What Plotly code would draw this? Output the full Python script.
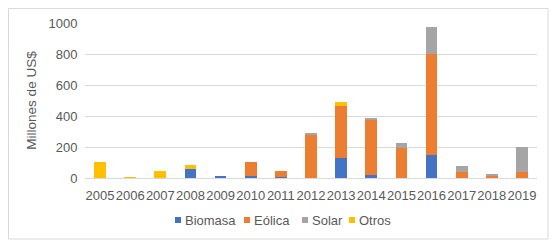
import plotly.graph_objects as go

years = ["2005", "2006", "2007", "2008", "2009", "2010", "2011", "2012",
         "2013", "2014", "2015", "2016", "2017", "2018", "2019"]
biomasa = [0, 0, 0, 56, 11, 13, 8, 0, 130, 20, 0, 149, 0, 0, 0]
eolica = [0, 0, 0, 0, 0, 93, 40, 283, 336, 360, 194, 654, 39, 13, 37]
solar = [0, 0, 0, 0, 0, 0, 0, 2, 0, 9, 31, 173, 37, 11, 164]
otros = [104, 6, 45, 28, 0, 0, 0, 0, 22, 0, 0, 0, 0, 0, 0]

series_names = ["Biomasa", "Eólica", "Solar", "Otros"]
series_values = [biomasa, eolica, solar, otros]
series_colors = ["#4472C4", "#ED7D31", "#A5A5A5", "#FFC000"]

font_family = "Liberation Sans, Arial, sans-serif"

fig = go.Figure()
for name, vals, color in zip(series_names, series_values, series_colors):
    fig.add_trace(go.Bar(x=years, y=vals, name=name, marker_color=color,
                         marker_line_width=0))

# page body has an 8px margin; work in screen coordinates and convert
O = 8
W, H = 559 - 2 * O, 251 - 2 * O
L, R, T, B = 85 - O, W - (537 - O), 23 - O, H - (178 - O)
pw = W - L - R
ph = H - T - B


def px(xs):
    return (xs - O - L) / pw


def py(ys):
    return (H - B - (ys - O)) / ph


shapes = [dict(type="rect", xref="paper", yref="paper",
               x0=px(8.5), x1=px(548), y0=py(239), y1=py(8.5),
               line=dict(color="#D9D9D9", width=1), layer="below")]
annotations = []
leg_marker_x = [175, 244, 302, 349]
leg_text_x = [183, 252, 310, 357]
leg_y = 220
for name, color, mx, tx in zip(series_names, series_colors, leg_marker_x, leg_text_x):
    shapes.append(dict(type="rect", xref="paper", yref="paper",
                       x0=px(mx), x1=px(mx + 6), y0=py(leg_y + 3), y1=py(leg_y - 3),
                       fillcolor=color, line=dict(width=0)))
    annotations.append(dict(text=name, xref="paper", yref="paper",
                            x=px(tx), y=py(leg_y), xanchor="left", yanchor="middle",
                            showarrow=False, font=dict(size=13, color="#595959")))

fig.update_layout(
    width=W, height=H,
    margin=dict(l=L, r=R, t=T, b=B, autoexpand=False),
    barmode="stack", bargap=0.61,
    paper_bgcolor="white", plot_bgcolor="white",
    font=dict(family=font_family, size=13, color="#595959"),
    showlegend=False,
    shapes=shapes,
    annotations=annotations,
)
fig.update_xaxes(showgrid=False, showline=True, linecolor="#D9D9D9",
                 linewidth=1, ticks="outside", ticklen=5,
                 tickcolor="rgba(0,0,0,0)", tickfont=dict(size=13),
                 tickangle=0)
fig.update_yaxes(range=[0, 1000], dtick=200, showgrid=True,
                 gridcolor="#D9D9D9", gridwidth=1, zeroline=False,
                 showline=False, ticks="outside", ticklen=4,
                 tickcolor="rgba(0,0,0,0)", tickfont=dict(size=13),
                 title=dict(text="Millones de US$", font=dict(size=13.5),
                            standoff=8))

fig.write_html("out.html")
